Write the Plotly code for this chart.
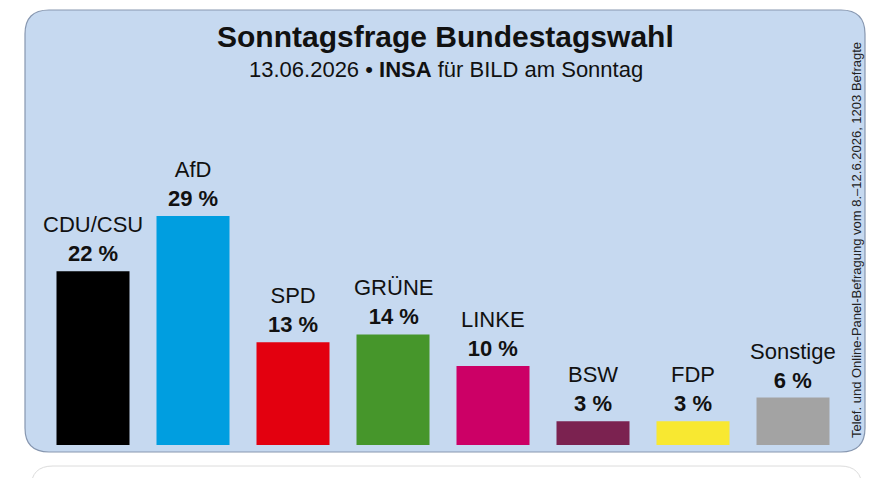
import plotly.graph_objects as go

parties = ['CDU/CSU', 'AfD', 'SPD', 'GRÜNE', 'LINKE', 'BSW', 'FDP', 'Sonstige']
werte = [22, 29, 13, 14, 10, 3, 3, 6]
farben = ['#000000', '#009ee0', '#e3000f', '#46962b', '#cc0066', '#7b2250', '#f8e831', '#a3a3a3']

titel = 'Sonntagsfrage Bundestagswahl'
untertitel = '13.06.2026 • <b>INSA</b> für BILD am Sonntag'
quelle = 'Telef. und Online-Panel-Befragung vom 8.–12.6.2026, 1203 Befragte'

W, H = 893, 478
OFF = 8  # seite hat 8px rand, alles darum verschieben
FONT = 'Liberation Sans, Arial, sans-serif'


def px(x):
    return (x - OFF) / W


def py(y):
    return 1 - (y - OFF) / H


def rund_rect(x0, y0, x1, y1, r):
    # abgerundetes rechteck als svg-pfad in paper-koordinaten
    rx, ry = r / W, r / H
    a, b, c, d = px(x0), py(y0), px(x1), py(y1)
    return (f'M {a + rx},{b} L {c - rx},{b} Q {c},{b} {c},{b - ry} '
            f'L {c},{d + ry} Q {c},{d} {c - rx},{d} L {a + rx},{d} '
            f'Q {a},{d} {a},{d + ry} L {a},{b - ry} Q {a},{b} {a + rx},{b} Z')


fig = go.Figure()
fig.add_trace(go.Bar(x=parties, y=werte, marker=dict(color=farben, line=dict(width=0)),
                     hoverinfo='skip'))

for p, v in zip(parties, werte):
    fig.add_annotation(x=p, y=v, text=f'{p}<br><b>{v} %</b>', showarrow=False,
                       yanchor='bottom', yshift=3,
                       font=dict(family=FONT, size=22, color='#111111'))

fig.add_annotation(xref='paper', yref='paper', x=px(445), y=py(36), text=f'<b>{titel}</b>',
                   showarrow=False, xanchor='center', yanchor='middle',
                   font=dict(family=FONT, size=30, color='#111111'))
fig.add_annotation(xref='paper', yref='paper', x=px(446), y=py(70), text=untertitel,
                   showarrow=False, xanchor='center', yanchor='middle',
                   font=dict(family=FONT, size=22, color='#111111'))
fig.add_annotation(xref='paper', yref='paper', x=px(857), y=py(240), text=quelle,
                   textangle=-90, showarrow=False, xanchor='center', yanchor='middle',
                   font=dict(family=FONT, size=13, color='#222222'))

fig.add_shape(type='path', xref='paper', yref='paper', layer='below',
              path=rund_rect(25, 10, 865, 452, 24),
              fillcolor='#c6d9f0', line=dict(color='#8797b0', width=1.2))
fig.add_shape(type='path', xref='paper', yref='paper', layer='below',
              path=rund_rect(31, 466, 862, 520, 22),
              fillcolor='#ffffff', line=dict(color='#dcdcdc', width=1))

fig.update_layout(
    width=W, height=H,
    margin=dict(l=0, r=0, t=0, b=0),
    paper_bgcolor='#ffffff', plot_bgcolor='rgba(0,0,0,0)',
    bargap=0.27, showlegend=False,
    xaxis=dict(domain=[px(43), px(843)], range=[-0.5, 7.5], visible=False),
    yaxis=dict(domain=[py(445), py(10)], range=[0, 435 / 7.9], visible=False),
)

fig.write_html('out.html')
